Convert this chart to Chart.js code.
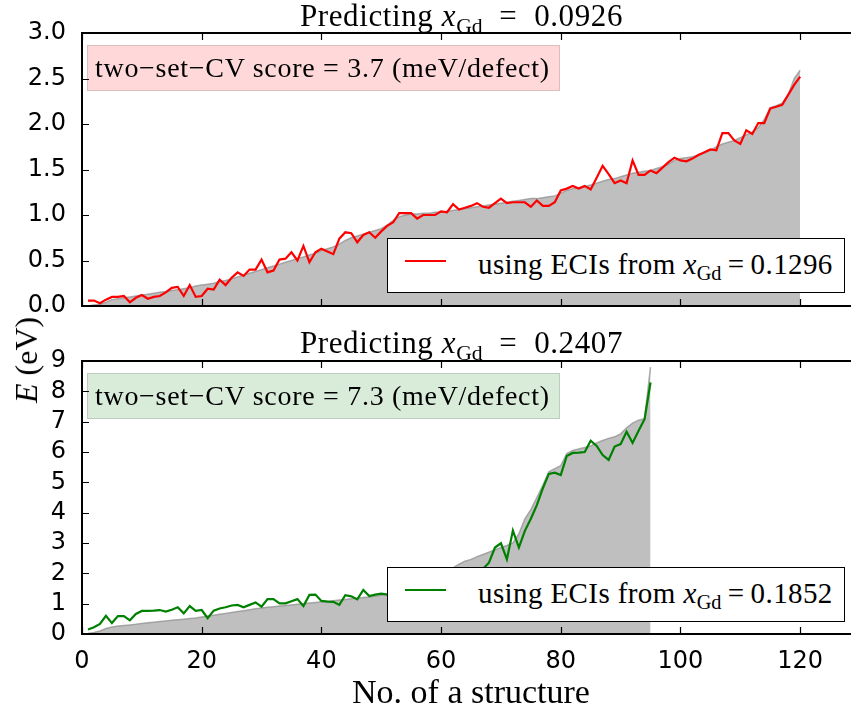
<!DOCTYPE html>
<html>
<head>
<meta charset="utf-8">
<script src="https://cdn.jsdelivr.net/npm/chart.js@4.4.1/dist/chart.umd.min.js"></script>
<style>
  html, body { margin: 0; padding: 0; background: #fff; overflow: hidden; }
  #fig { position: relative; width: 851px; height: 715px; overflow: hidden; }
  #fig canvas { position: absolute; left: 0; }
  .tx { position: absolute; font-family: "Liberation Serif", serif; color: #000; white-space: nowrap; line-height: 1; }
  .tx i { font-style: italic; }
  .sub { font-size: 0.7em; position: relative; top: 0.3em; letter-spacing: 0; }
  .ttl { font-size: 31px; left: 300px; letter-spacing: 0.6px; }
  .score { font-size: 28px; left: 87px; width: 473px; height: 46px; box-sizing: border-box; letter-spacing: 0.7px;
           border: 1.5px solid rgba(0,0,0,0.13); padding: 8px 0 0 7px; }
  .leg { left: 387px; width: 458px; height: 55px; box-sizing: border-box; border: 1.5px solid #000;
         background: #fff; font-size: 29px; letter-spacing: 0.4px; }
  .leg .sw { position: absolute; left: 17px; top: 21px; width: 41px; height: 2.2px; }
  .leg .lt { position: absolute; left: 90px; top: 11px; }
  .ylab { font-size: 32px; left: 26px; top: 360px; transform: translate(-50%, -50%) rotate(-90deg); }
</style>
</head>
<body>
<div id="fig">
  <canvas id="top" width="870" height="330" style="top:0"></canvas>
  <canvas id="bot" width="870" height="385" style="top:330px"></canvas>
  <div class="tx ttl" id="ttlTop" style="top:0px"></div>
  <div class="tx ttl" id="ttlBot" style="top:327px"></div>
  <div class="tx score" id="scoreTop" style="top:45px;background:rgba(255,0,0,0.15)"></div>
  <div class="tx score" id="scoreBot" style="top:373px;background:rgba(0,128,0,0.15)"></div>
  <div class="tx leg" id="legTop" style="top:238px"></div>
  <div class="tx leg" id="legBot" style="top:567px"></div>
  <div class="tx ylab"><i>E</i> (eV)</div>
</div>
<script>
// x_Gd = 0.0926 : reference energies (sorted) and predictions with ECIs from x_Gd = 0.1296
const refTop = [
  0.00, 0.01, 0.02, 0.04, 0.07, 0.08, 0.09, 0.10, 0.11, 0.12,
  0.13, 0.14, 0.15, 0.16, 0.17, 0.18, 0.19, 0.20, 0.22, 0.23,
  0.24, 0.25, 0.27, 0.28, 0.30, 0.32, 0.34, 0.36, 0.38, 0.40,
  0.42, 0.44, 0.46, 0.48, 0.50, 0.52, 0.54, 0.56, 0.58, 0.61,
  0.63, 0.65, 0.68, 0.72, 0.75, 0.77, 0.79, 0.81, 0.83, 0.85,
  0.89, 0.94, 0.98, 1.00, 1.01, 1.01, 1.02, 1.02, 1.03, 1.03,
  1.04, 1.05, 1.06, 1.07, 1.08, 1.09, 1.10, 1.11, 1.12, 1.13,
  1.14, 1.15, 1.16, 1.17, 1.18, 1.18, 1.19, 1.20, 1.21, 1.24,
  1.27, 1.29, 1.30, 1.31, 1.33, 1.35, 1.37, 1.39, 1.40, 1.42,
  1.44, 1.46, 1.47, 1.48, 1.49, 1.51, 1.53, 1.56, 1.60, 1.62,
  1.63, 1.64, 1.66, 1.68, 1.71, 1.75, 1.78, 1.80, 1.82, 1.85,
  1.88, 1.91, 1.96, 2.05, 2.18, 2.20, 2.23, 2.32, 2.50, 2.59
];
const predTop = [
  0.06, 0.06, 0.03, 0.07, 0.10, 0.10, 0.11, 0.04, 0.09, 0.12,
  0.08, 0.10, 0.11, 0.15, 0.20, 0.21, 0.11, 0.23, 0.10, 0.11,
  0.19, 0.18, 0.29, 0.23, 0.31, 0.37, 0.33, 0.40, 0.40, 0.51,
  0.37, 0.39, 0.51, 0.52, 0.59, 0.50, 0.66, 0.48, 0.59, 0.63,
  0.60, 0.57, 0.74, 0.81, 0.80, 0.70, 0.78, 0.81, 0.75, 0.82,
  0.88, 0.92, 1.02, 1.02, 1.02, 0.96, 1.00, 1.00, 1.00, 1.04,
  1.03, 1.12, 1.06, 1.08, 1.10, 1.13, 1.09, 1.08, 1.13, 1.18,
  1.13, 1.14, 1.14, 1.14, 1.09, 1.16, 1.10, 1.10, 1.14, 1.27,
  1.29, 1.32, 1.29, 1.32, 1.28, 1.41, 1.54, 1.45, 1.35, 1.38,
  1.35, 1.60, 1.44, 1.44, 1.49, 1.46, 1.52, 1.58, 1.63, 1.60,
  1.59, 1.62, 1.66, 1.69, 1.72, 1.71, 1.90, 1.90, 1.82, 1.78,
  1.93, 1.89, 2.01, 2.01, 2.17, 2.19, 2.21, 2.32, 2.43, 2.52
];

// x_Gd = 0.2407 : reference energies (sorted) and predictions with ECIs from x_Gd = 0.1852
const refBot = [
  0.02, 0.05, 0.10, 0.18, 0.23, 0.26, 0.28, 0.30, 0.32, 0.35,
  0.37, 0.39, 0.41, 0.43, 0.45, 0.47, 0.49, 0.51, 0.53, 0.56,
  0.59, 0.62, 0.65, 0.68, 0.71, 0.74, 0.77, 0.80, 0.83, 0.86,
  0.88, 0.90, 0.92, 0.94, 0.96, 0.98, 1.00, 1.02, 1.04, 1.06,
  1.08, 1.10, 1.12, 1.14, 1.16, 1.18, 1.20, 1.22, 1.25, 1.28,
  1.32, 1.38, 1.45, 1.52, 1.60, 1.68, 1.76, 1.84, 1.92, 2.00,
  2.08, 2.18, 2.30, 2.40, 2.46, 2.55, 2.62, 2.70, 2.78, 2.85,
  2.92, 3.00, 3.30, 3.80, 4.10, 4.50, 4.90, 5.35, 5.45, 5.55,
  5.95, 6.05, 6.10, 6.15, 6.20, 6.30, 6.38, 6.45, 6.50, 6.60,
  6.80, 6.95, 7.05, 7.10, 8.80
];
const predBot = [
  0.15, 0.22, 0.33, 0.60, 0.36, 0.59, 0.59, 0.45, 0.66, 0.76,
  0.76, 0.77, 0.79, 0.74, 0.80, 0.88, 0.68, 0.92, 0.76, 0.79,
  0.52, 0.77, 0.84, 0.88, 0.94, 0.96, 0.88, 0.96, 1.04, 0.90,
  1.15, 1.15, 1.01, 1.01, 1.08, 1.15, 0.92, 1.29, 1.30, 1.09,
  1.07, 1.06, 0.96, 1.28, 1.24, 1.14, 1.45, 1.25, 1.30, 1.33,
  1.30, 1.45, 1.40, 1.55, 1.50, 1.62, 1.70, 1.65, 1.80, 1.85,
  1.95, 1.90, 2.05, 2.00, 2.10, 2.05, 2.15, 2.35, 2.85, 2.99,
  2.46, 3.41, 2.85, 3.40, 3.80, 4.25, 4.80, 5.28, 5.32, 5.24,
  5.87, 5.97, 5.98, 6.00, 6.37, 6.20, 5.90, 5.74, 6.18, 6.26,
  6.67, 6.30, 6.70, 7.08, 8.29
];

const predictedX = ['0.0926', '0.2407'];
const sourceX = ['0.1296', '0.1852'];
const cvScores = ['3.7', '7.3'];
const xTicks = [0, 20, 40, 60, 80, 100, 120];
const yTicksTop = [0.0, 0.5, 1.0, 1.5, 2.0, 2.5, 3.0];
const yTicksBot = [0, 1, 2, 3, 4, 5, 6, 7, 8, 9];

const pts = arr => arr.map((v, i) => ({ x: i + 1, y: v }));
const tickFont = { family: 'DejaVu Sans', size: 24 };

// matplotlib-classic style frame: full box with ticks pointing inwards
const frame = {
  id: 'frame',
  afterDatasetsDraw(chart) {
    const { ctx, chartArea: a, scales } = chart;
    ctx.save();
    ctx.strokeStyle = '#000';
    ctx.lineWidth = 1.2;
    ctx.beginPath();
    scales.x.ticks.forEach(t => {
      const px = Math.round(scales.x.getPixelForValue(t.value)) + 0.5;
      ctx.moveTo(px, a.top); ctx.lineTo(px, a.top + 7);
      ctx.moveTo(px, a.bottom); ctx.lineTo(px, a.bottom - 7);
    });
    scales.y.ticks.forEach(t => {
      const py = Math.round(scales.y.getPixelForValue(t.value)) + 0.5;
      ctx.moveTo(a.left, py); ctx.lineTo(a.left + 7, py);
      ctx.moveTo(a.right, py); ctx.lineTo(a.right - 7, py);
    });
    ctx.stroke();
    ctx.lineWidth = 2;
    ctx.strokeRect(a.left, a.top, a.right - a.left, a.bottom - a.top);
    ctx.restore();
  }
};

function panel(id, ref, pred, color, yMax, yTicks, fmt, bottomAxis) {
  const h = document.getElementById(id).height;
  return new Chart(document.getElementById(id), {
    type: 'line',
    data: {
      datasets: [
        { label: 'pred', data: pts(pred), borderColor: color, borderWidth: 2.2,
          pointRadius: 0, tension: 0, fill: false, order: 0 },
        { label: 'ref', data: pts(ref), borderColor: 'rgba(140,140,140,0.7)', borderWidth: 1.5,
          backgroundColor: '#bfbfbf', pointRadius: 0, tension: 0, fill: 'origin', order: 1 }
      ]
    },
    options: {
      responsive: false,
      animation: false,
      events: [],
      layout: { padding: { top: bottomAxis ? 31 : 33, right: 10, left: 0, bottom: 0 } },
      plugins: { legend: { display: false }, tooltip: { enabled: false } },
      scales: {
        x: {
          type: 'linear', min: 0, max: 130,
          grid: { display: false }, border: { display: false },
          afterBuildTicks: s => { s.ticks = xTicks.map(v => ({ value: v })); },
          afterFit: s => { s.height = bottomAxis ? h - 304 : h - 306; },
          ticks: { display: bottomAxis, autoSkip: false, font: tickFont, color: '#000', padding: 5, maxRotation: 0 },
          title: { display: bottomAxis, text: 'No. of a structure', color: '#000',
                   font: { family: 'Liberation Serif', size: 34 }, padding: { top: 0, bottom: 1 } }
        },
        y: {
          min: 0, max: yMax,
          grid: { display: false }, border: { display: false },
          afterBuildTicks: s => { s.ticks = yTicks.map(v => ({ value: v })); },
          afterFit: s => { s.width = 82; },
          ticks: { autoSkip: false, font: tickFont, color: '#000', padding: 8, callback: fmt }
        }
      }
    },
    plugins: [frame]
  });
}

const charts = [
  panel('top', refTop, predTop, '#ff0000', 3, yTicksTop, v => v.toFixed(1), false),
  panel('bot', refBot, predBot, '#008000', 9, yTicksBot, v => String(v), true)
];

const xGd = '<i>x</i><span class="sub">Gd</span>';
['Top', 'Bot'].forEach((k, i) => {
  document.getElementById('ttl' + k).innerHTML =
    'Predicting ' + xGd + '&nbsp;&nbsp;=&nbsp;&nbsp;' + predictedX[i];
  document.getElementById('score' + k).innerHTML =
    'two\u2212set\u2212CV score = ' + cvScores[i] + ' (meV/defect)';
  const line = charts[i].data.datasets[0];
  document.getElementById('leg' + k).innerHTML =
    '<span class="sw" style="background:' + line.borderColor + '"></span>' +
    '<span class="lt">using ECIs from ' + xGd + '&thinsp;=&thinsp;' + sourceX[i] + '</span>';
});
</script>
</body>
</html>
